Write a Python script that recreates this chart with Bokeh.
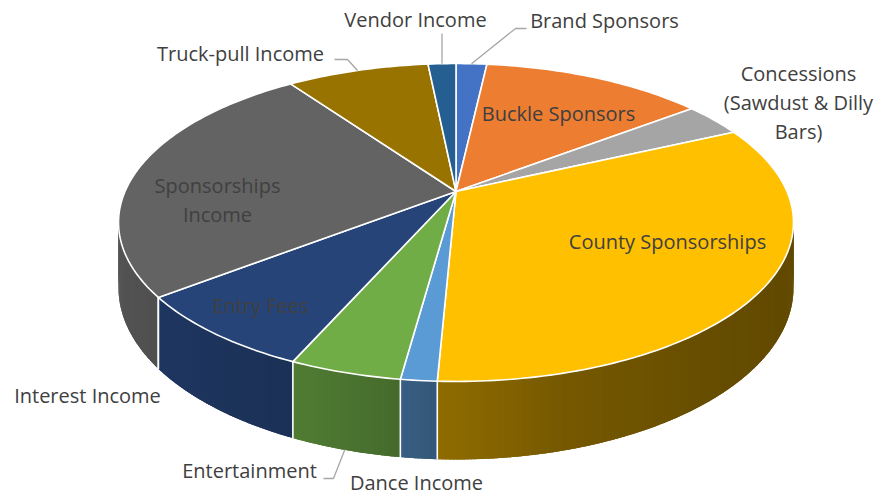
import numpy as np
from bokeh.plotting import figure
from bokeh.models import Range1d
from bokeh.embed import file_html
from bokeh.resources import INLINE
from bokeh.core.properties import value

# ---------------- data ----------------
categories = ["Brand Sponsors", "Buckle Sponsors", "Concessions (Sawdust & Dilly Bars)",
              "County Sponsorships", "Dance Income", "Entertainment", "Entry Fees",
              "Interest Income", "Sponsorships Income", "Truck-pull Income", "Vendor Income"]
amounts = [1780, 12860, 3470, 32610, 1440, 4470, 7920, 0, 25610, 8220, 1610]
colors = ["#4472C4", "#ED7D31", "#A5A5A5", "#FFC000", "#5B9BD5", "#70AD47",
          "#264478", "#9E480E", "#636363", "#997300", "#255E91"]

# ---------------- label layout (positions only) ----------------
label_lines = {
    "Brand Sponsors": ["Brand Sponsors"],
    "Buckle Sponsors": ["Buckle Sponsors"],
    "Concessions (Sawdust & Dilly Bars)": ["Concessions", "(Sawdust & Dilly", "Bars)"],
    "County Sponsorships": ["County Sponsorships"],
    "Dance Income": ["Dance Income"],
    "Entertainment": ["Entertainment"],
    "Entry Fees": ["Entry Fees"],
    "Interest Income": ["Interest Income"],
    "Sponsorships Income": ["Sponsorships", "Income"],
    "Truck-pull Income": ["Truck-pull Income"],
    "Vendor Income": ["Vendor Income"],
}
label_pos = {
    "Brand Sponsors": (604, 20),
    "Buckle Sponsors": (558, 113),
    "Concessions (Sawdust & Dilly Bars)": (798, 73),
    "County Sponsorships": (667, 241),
    "Dance Income": (416, 482),
    "Entertainment": (249, 470),
    "Entry Fees": (260, 305),
    "Interest Income": (87, 395),
    "Sponsorships Income": (217, 185),
    "Truck-pull Income": (240, 53),
    "Vendor Income": (415, 19),
}
leader_elbows = {
    "Vendor Income": [(None, 33)],
    "Brand Sponsors": [(515, 28), (526, 28)],
    "Truck-pull Income": [(347, 59), (334, 59)],
    "Entertainment": [(333, 478), (323, 478)],
}
LINE_GAP = 29

# ---------------- projection ----------------
CX, CY = 455.5, 191.0
A, B, K = 331.0, 152.9, 0.195
H = 62.8


def proj(theta, r=1.0, drop=0.0):
    c, s = np.cos(theta), np.sin(theta)
    w = 1 + K * r * s
    return CX + A * r * c / w, CY - B * r * s / w + drop / w


def shade(hexcol, f):
    h = hexcol.lstrip("#")
    rgb = [int(h[i:i + 2], 16) for i in (0, 2, 4)]
    return "#%02x%02x%02x" % tuple(int(max(0, min(255, round(v * f)))) for v in rgb)


wall_deg = [180, 200, 225, 250, 262, 268, 285, 310, 360]
wall_fac = [0.86, 0.84, 0.79, 0.70, 0.62, 0.56, 0.46, 0.40, 0.37]

total = float(sum(amounts))
cw_edges = np.concatenate([[0.0], np.cumsum(amounts) / total * 360.0])

p = figure(width=882, height=500, x_range=Range1d(0, 882), y_range=Range1d(500, 0),
           output_backend="svg", toolbar_location=None, min_border=0,
           x_axis_type=None, y_axis_type=None)
p.grid.visible = False
p.outline_line_color = None
p.background_fill_color = "white"
p.border_fill_color = "white"

# ---- walls ----
strips = []
STEP = 0.5
for i, amt in enumerate(amounts):
    if amt <= 0:
        continue
    a0, a1 = cw_edges[i], cw_edges[i + 1]
    n = max(2, int(np.ceil((a1 - a0) / STEP)))
    cws = np.linspace(a0, a1, n + 1)
    for j in range(n):
        c0 = cws[j] - (0.35 if j > 0 else 0.0)
        c1 = cws[j + 1] + (0.35 if j < n - 1 else 0.0)
        t0, t1 = np.radians(90.0 - c0), np.radians(90.0 - c1)
        tm = np.radians(90.0 - 0.5 * (cws[j] + cws[j + 1]))
        if np.sin(tm) >= 0.02:
            continue
        x0, y0 = proj(t0)
        x1, y1 = proj(t1)
        x0b, y0b = proj(t0, drop=H)
        x1b, y1b = proj(t1, drop=H)
        deg = np.degrees(tm) % 360.0
        f = float(np.interp(deg, wall_deg, wall_fac))
        strips.append((np.sin(tm), [x0, x1, x1b, x0b], [y0, y1, y1b, y0b], shade(colors[i], f)))
strips.sort(key=lambda s: -s[0])
p.patches([s[1] for s in strips], [s[2] for s in strips], fill_color=[s[3] for s in strips],
          line_color=None)

# white separators on walls
for e in cw_edges:
    t = np.radians(90.0 - e)
    if np.sin(t) < -K:
        xt, yt = proj(t)
        xb, yb = proj(t, drop=H)
        p.line([xt, xb], [yt, yb], line_color="white", line_width=1.6)

# ---- top faces ----
xs, ys, fc = [], [], []
for i, amt in enumerate(amounts):
    if amt <= 0:
        continue
    a0, a1 = cw_edges[i], cw_edges[i + 1]
    n = max(4, int(np.ceil((a1 - a0) / 1.0)))
    th = np.radians(90.0 - np.linspace(a0, a1, n + 1))
    ax, ay = proj(th)
    xs.append([CX] + list(ax))
    ys.append([CY] + list(ay))
    fc.append(colors[i])
p.patches(xs, ys, fill_color=fc, line_color="white", line_width=1.6, line_join="round")

# ---- leader lines ----
for cat, elbows in leader_elbows.items():
    i = categories.index(cat)
    mid = 0.5 * (cw_edges[i] + cw_edges[i + 1])
    t = np.radians(90.0 - mid)
    if np.sin(t) > 0:
        ax_, ay_ = proj(t)
    else:
        ax_, ay_ = proj(t, drop=H)
    lx = [ax_] + [ax_ if ex is None else ex for ex, ey in elbows]
    ly = [ay_] + [ey for ex, ey in elbows]
    p.line(lx, ly, line_color="#A6A6A6", line_width=1.3)

# ---- labels ----
tx, ty, tt = [], [], []
for cat in categories:
    x0, y0 = label_pos[cat]
    for k, line in enumerate(label_lines[cat]):
        tx.append(x0)
        ty.append(y0 + k * LINE_GAP)
        tt.append(line)
p.text(tx, ty, text=tt, text_font=value("Open Sans"), text_font_size="20px",
       text_color="#404040", text_align="center", text_baseline="middle")

open("out.html", "w").write(file_html(p, INLINE))
